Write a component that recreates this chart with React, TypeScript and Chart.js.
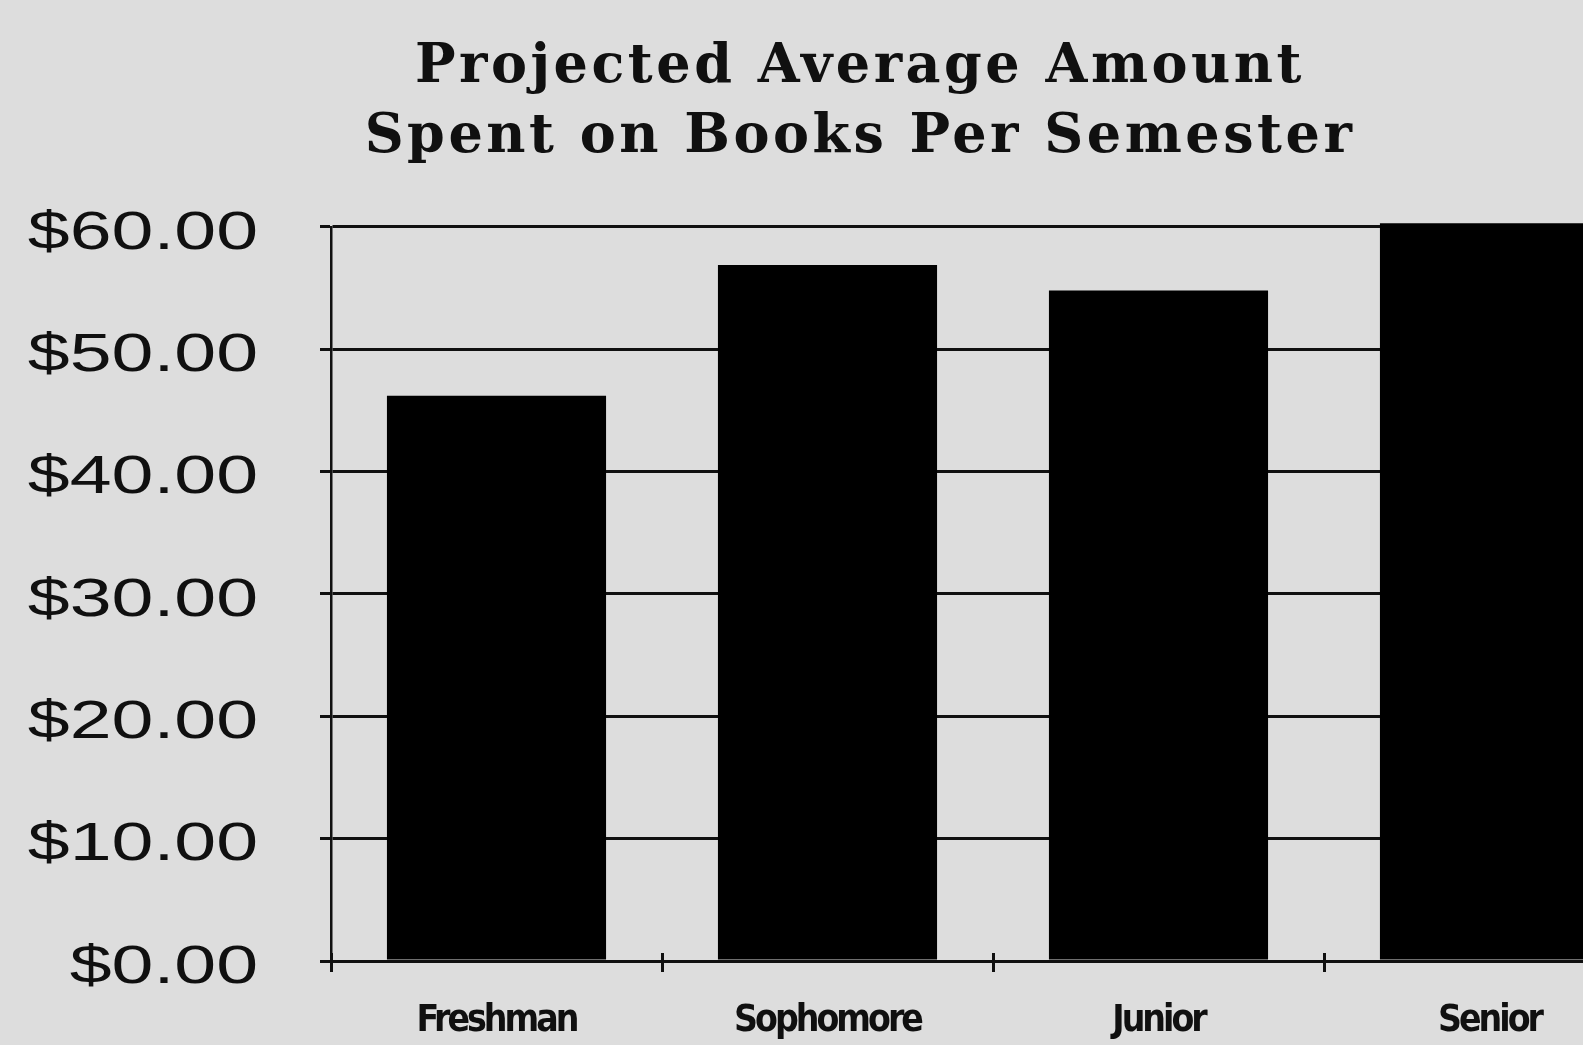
import React, { useEffect, useRef } from 'react';
import { Chart, registerables, LinearScale, CategoryScale } from 'chart.js';

Chart.register(...registerables);

// ---- data ----
const categories = ['Freshman', 'Sophomore', 'Junior', 'Senior'];
const amounts = [46.2, 56.9, 54.8, 60.3];
const titleLines = ['Projected Average Amount', 'Spent on Books Per Semester'];
const yMin = 0;
const yMax = 60;
const yStep = 10;

// ---- look ----
const BG = '#dddddd';
const INK = '#101010';
const CANVAS_W = 1720;
const CANVAS_H = 1045;
const Y_LABEL_STRETCH = 1.42;
const Y_LABEL_EXTRA_GAP = 58;
const Y_LABEL_DROP = 7;
const X_LABEL_SPACING = '-3px';
const TITLE_SPACING = '3.5px';
const X_TICK_UP = 10;

class WideLinearScale extends LinearScale {
  static id = 'wideLinear';
  drawLabels(chartArea: any) {
    const ctx = (this as any).ctx as any;
    const opts: any = (this as any).options;
    const tl = opts.grid && opts.grid.drawTicks ? opts.grid.tickLength : 0;
    const labelX = (this as any).right - tl - opts.ticks.padding;
    ctx.save();
    ctx.letterSpacing = '0px';
    ctx.translate(-Y_LABEL_EXTRA_GAP, Y_LABEL_DROP);
    ctx.translate(labelX, 0);
    ctx.scale(Y_LABEL_STRETCH, 1);
    ctx.translate(-labelX, 0);
    super.drawLabels(chartArea);
    ctx.restore();
  }
}

class TightCategoryScale extends CategoryScale {
  static id = 'tightCategory';
  drawGrid(chartArea: any) {
    super.drawGrid(chartArea);
    const items: any[] = (this as any)._gridLineItems || [];
    const ctx = (this as any).ctx as any;
    ctx.save();
    ctx.strokeStyle = INK;
    ctx.lineWidth = 3;
    for (const it of items) {
      ctx.beginPath();
      ctx.moveTo(it.tx1, it.ty1 - X_TICK_UP);
      ctx.lineTo(it.tx2, it.ty1);
      ctx.stroke();
    }
    ctx.restore();
  }
  drawLabels(chartArea: any) {
    const ctx = (this as any).ctx as any;
    ctx.save();
    ctx.letterSpacing = X_LABEL_SPACING;
    super.drawLabels(chartArea);
    ctx.restore();
  }
}

Chart.register(WideLinearScale as any, TightCategoryScale as any);

const titleSpacingPlugin = {
  id: 'titleSpacing',
  beforeDraw(chart: any) {
    chart.ctx.letterSpacing = TITLE_SPACING;
  },
  afterDraw(chart: any) {
    chart.ctx.letterSpacing = '0px';
  },
};

export default function App() {
  const ref = useRef<HTMLCanvasElement | null>(null);

  useEffect(() => {
    if (!ref.current) return;
    const chart = new Chart(ref.current, {
      type: 'bar',
      data: {
        labels: categories,
        datasets: [
          {
            data: amounts,
            backgroundColor: '#000000',
            borderWidth: 0,
            barPercentage: 0.662,
            categoryPercentage: 1,
            clip: false as any,
            yAxisID: 'y',
          },
        ],
      },
      plugins: [titleSpacingPlugin as any],
      options: {
        responsive: false,
        animation: false,
        devicePixelRatio: 1,
        layout: { padding: 0 },
        plugins: {
          legend: { display: false },
          tooltip: { enabled: false },
          title: {
            display: true,
            text: titleLines,
            color: INK,
            font: { family: "'DejaVu Serif', serif", weight: 'bold', size: 54, lineHeight: 1.296 },
            padding: { top: 33, bottom: 54 },
          },
        },
        scales: {
          x: {
            type: 'tightCategory' as any,
            offset: true,
            grid: {
              display: true,
              drawOnChartArea: false,
              drawTicks: true,
              tickLength: 11,
              color: INK,
              lineWidth: 3,
              offset: true,
            },
            border: { display: true, color: INK, width: 3 },
            ticks: {
              color: INK,
              font: { family: "'DejaVu Sans Condensed', 'DejaVu Sans', sans-serif", weight: 'bold', size: 37 },
              padding: 27,
              maxRotation: 0,
              autoSkip: false,
            },
            afterFit: (s: any) => {
              s.height = 84;
            },
          } as any,
          y: {
            type: 'wideLinear' as any,
            position: 'left',
            min: yMin,
            max: yMax,
            grid: {
              display: true,
              drawOnChartArea: true,
              drawTicks: true,
              tickLength: 11,
              color: INK,
              lineWidth: 3,
            },
            border: { display: true, color: INK, width: 2.5 },
            ticks: {
              stepSize: yStep,
              color: INK,
              font: { family: "'Liberation Sans', Arial, sans-serif", size: 53 },
              padding: 4,
              callback: (v: any) => '$' + Number(v).toFixed(2),
            },
            afterFit: (s: any) => {
              s.width = 331;
            },
          } as any,
          yR: {
            type: 'linear',
            position: 'right',
            display: true,
            grid: { display: false },
            border: { display: false },
            ticks: { display: false },
            afterFit: (s: any) => {
              s.width = 65;
            },
          },
        },
      } as any,
    });
    return () => chart.destroy();
  }, []);

  return (
    <div
      style={{
        position: 'fixed',
        left: 0,
        top: 0,
        width: '1583px',
        height: '1045px',
        overflow: 'hidden',
        background: BG,
      }}
    >
      <canvas
        ref={ref}
        width={CANVAS_W}
        height={CANVAS_H}
        style={{ display: 'block', width: CANVAS_W + 'px', height: CANVAS_H + 'px' }}
      />
    </div>
  );
}
